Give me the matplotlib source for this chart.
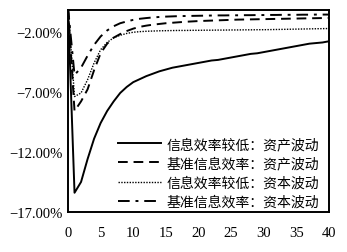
import matplotlib
matplotlib.use("Agg")
import matplotlib.pyplot as plt
from matplotlib.ticker import FuncFormatter
import numpy as np

t = list(range(0, 41))
# values in percent
low_asset = [0.0, -15.4, -14.5, -12.6, -10.9, -9.6, -8.6, -7.8, -7.1, -6.6,
             -6.2, -5.95, -5.7, -5.5, -5.3, -5.15, -5.0, -4.9, -4.8, -4.7,
             -4.6, -4.5, -4.4, -4.35, -4.25, -4.15, -4.05, -3.95, -3.85, -3.8,
             -3.7, -3.6, -3.5, -3.4, -3.3, -3.2, -3.1, -3.0, -2.95, -2.9, -2.8]
base_asset = [0.0, -8.6, -7.8, -6.8, -5.2, -3.8, -3.0, -2.5, -2.2, -1.95,
              -1.75, -1.6, -1.5, -1.42, -1.36, -1.3, -1.26, -1.22, -1.18, -1.15,
              -1.12, -1.1, -1.08, -1.06, -1.04, -1.02, -1.0, -0.99, -0.98, -0.97,
              -0.96, -0.95, -0.94, -0.93, -0.92, -0.91, -0.9, -0.89, -0.88, -0.87, -0.86]
low_capital = [0.0, -7.4, -7.1, -6.0, -4.6, -3.5, -2.9, -2.5, -2.3, -2.15,
               -2.05, -2.0, -1.97, -1.95, -1.93, -1.92, -1.91, -1.9, -1.9, -1.89,
               -1.89, -1.88, -1.88, -1.87, -1.87, -1.86, -1.86, -1.85, -1.85, -1.84,
               -1.84, -1.83, -1.82, -1.81, -1.8, -1.79, -1.78, -1.77, -1.76, -1.75, -1.74]
base_capital = [0.0, -5.6, -5.0, -4.0, -3.1, -2.4, -1.9, -1.55, -1.3, -1.15,
                -1.02, -0.93, -0.87, -0.82, -0.78, -0.75, -0.73, -0.71, -0.7, -0.69,
                -0.68, -0.67, -0.66, -0.65, -0.65, -0.64, -0.64, -0.63, -0.63, -0.62,
                -0.62, -0.61, -0.61, -0.6, -0.6, -0.6, -0.59, -0.59, -0.58, -0.58, -0.58]
labels = ["信息效率较低：资产波动", "基准信息效率：资产波动",
          "信息效率较低：资本波动", "基准信息效率：资本波动"]
yticks = [-2, -7, -12, -17]
xticks = list(range(0, 41, 5))

plt.rcParams['font.family'] = ['Liberation Serif', 'Noto Sans CJK SC']

fig = plt.figure(figsize=(3.47, 2.53), dpi=100)
ax = fig.add_axes([68/347, 1-213/253, (329-68)/347, (213-11)/253])

ax.plot(t, low_asset, color='black', lw=1.4, ls='-', label=labels[0])
ax.plot(t, base_asset, color='black', lw=1.4, ls=(0, (5, 3)), label=labels[1])
ax.plot(t, low_capital, color='black', lw=1.0, ls=(0, (1, 1)), label=labels[2])
ax.plot(t, base_capital, color='black', lw=1.4, ls=(0, (6, 3, 1.5, 3)), label=labels[3])

ax.set_xlim(0, 40)
ax.set_ylim(-17, -0.2)
ax.set_xticks(xticks)
ax.set_yticks(yticks)
ax.yaxis.set_major_formatter(FuncFormatter(lambda v, p: "\u2212%.2f%%" % abs(v)))
ax.tick_params(length=0, labelsize=10.5)
ax.tick_params(axis='x', pad=10)
ax.tick_params(axis='y', pad=4)
for s in ax.spines.values():
    s.set_linewidth(1.4)

leg = ax.legend(loc='lower right', frameon=False,
                prop={'family': ['Noto Sans CJK SC'], 'size': 10},
                handlelength=3.1, labelspacing=0.38, handletextpad=0.4,
                borderaxespad=0.0, bbox_to_anchor=(0.982, -0.012))

fig.savefig("out.png", dpi=100)
